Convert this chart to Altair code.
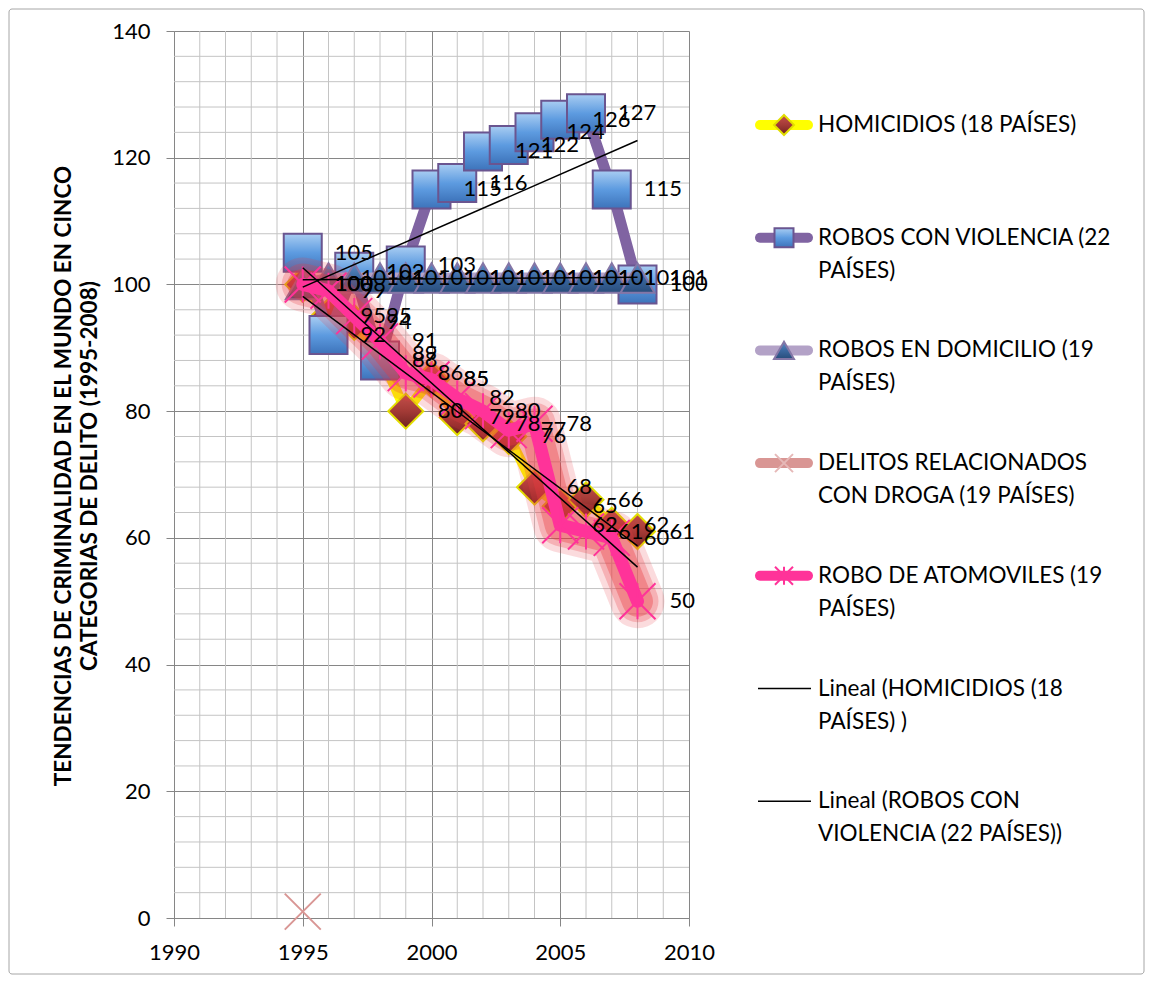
import altair as alt
import pandas as pd

# ---------------- data ----------------
years = [1995, 1996, 1997, 1998, 1999, 2000, 2001, 2002, 2003, 2004, 2005, 2006, 2007, 2008]
homicidios = [100, 95, 94, 89, 80, 85, 79, 78, 76, 68, 65, 66, 62, 61]
robos_violencia = [105, 92, 102, 88, 103, 115, 116, 121, 122, 124, 126, 127, 115, 100]
robos_domicilio = [100, 101, 101, 101, 101, 101, 101, 101, 101, 101, 101, 101, 101, 101]
delitos_years = [1995]
delitos_droga = [1]
robo_automoviles = [100, 99, 95, 91, 86, 85, 82, 80, 77, 78, 62, 61, 60, 50]

x_ticks = [1990, 1995, 2000, 2005, 2010]
y_ticks = [0, 20, 40, 60, 80, 100, 120, 140]
x_minor = [1991, 1992, 1993, 1994, 1996, 1997, 1998, 1999, 2001, 2002, 2003, 2004,
           2006, 2007, 2008, 2009]
y_minor = [4, 8, 12, 16, 24, 28, 32, 36, 44, 48, 52, 56, 64, 68, 72, 76, 84, 88, 92, 96,
           104, 108, 112, 116, 124, 128, 132, 136]

y_title = ["TENDENCIAS DE CRIMINALIDAD EN EL MUNDO EN CINCO",
           "CATEGORIAS DE DELITO (1995-2008)"]

legend_line1 = ["HOMICIDIOS (18 PAÍSES)", "ROBOS CON VIOLENCIA (22", "ROBOS EN DOMICILIO (19",
                "DELITOS RELACIONADOS", "ROBO DE ATOMOVILES (19", "Lineal (HOMICIDIOS (18",
                "Lineal (ROBOS CON"]
legend_line2 = ["", "PAÍSES)", "PAÍSES)", "CON DROGA (19 PAÍSES)", "PAÍSES)", "PAÍSES) )",
                "VIOLENCIA (22 PAÍSES))"]

# ---------------- style ----------------
FONT = "Lato"
W, H = 515, 887
GRID_MAJOR = "#868686"
GRID_MINOR = "#C4C4C4"

def grad(*cols):
    n = len(cols) - 1
    return alt.LinearGradient(
        gradient="linear",
        stops=[alt.GradientStop(color=c, offset=i / n) for i, c in enumerate(cols)],
        x1=0, x2=0, y1=0, y2=1)

HOM_FILL = grad("#C5504B", "#A33A36", "#6E2220")
VIO_FILL = grad("#A9CDF2", "#5D9BE0", "#3D73BA")
DOM_FILL = grad("#5A8BC6", "#3B68A0", "#284C7A")
STAR = "M-1,-1L1,1M-1,1L1,-1M0,-1L0,1"
XSHAPE = "M-1,-1L1,1M-1,1L1,-1"

xscale = alt.Scale(domain=[1990, 2010], nice=False, zero=False)
yscale = alt.Scale(domain=[0, 140], nice=False, zero=True)
xaxis = alt.Axis(values=x_ticks, format="d", title=None, grid=True, gridColor=GRID_MAJOR,
                 domainColor=GRID_MAJOR, tickColor=GRID_MAJOR, tickSize=8,
                 labelFont=FONT, labelFontSize=22, labelColor="black", labelPadding=16,
                 labelFlush=False, labelOverlap=False)
yaxis = alt.Axis(values=y_ticks, format="d", title=None, grid=True, gridColor=GRID_MAJOR,
                 domainColor=GRID_MAJOR, tickColor=GRID_MAJOR, tickSize=8,
                 labelFont=FONT, labelFontSize=22, labelColor="black", labelPadding=16,
                 labelFlush=False, labelOverlap=False)

def X(f):
    return alt.X(f, scale=xscale, axis=xaxis)

def Y(f):
    return alt.Y(f, scale=yscale, axis=yaxis)

def frame(xs, vs):
    return pd.DataFrame({"year": xs, "value": vs})

df_hom = frame(years, homicidios)
df_vio = frame(years, robos_violencia)
df_dom = frame(years, robos_domicilio)
df_del = frame(delitos_years, delitos_droga)
df_aut = frame(years, robo_automoviles)

layers = []

# minor grid
layers.append(alt.Chart(pd.DataFrame({"year": x_minor})).mark_rule(
    color=GRID_MINOR, strokeWidth=1).encode(x=X("year:Q")))
layers.append(alt.Chart(pd.DataFrame({"value": y_minor})).mark_rule(
    color=GRID_MINOR, strokeWidth=1).encode(y=Y("value:Q")))

def line(df, color, width, **kw):
    return alt.Chart(df).mark_line(color=color, strokeWidth=width, strokeCap="round",
                                   strokeJoin="round", **kw).encode(
        x=X("year:Q"), y=Y("value:Q"))

def points(df, **kw):
    return alt.Chart(df).mark_point(opacity=1, **kw).encode(x=X("year:Q"), y=Y("value:Q"))

# homicidios
layers.append(line(df_hom, "#FFFF00", 10))
layers.append(points(df_hom, shape="diamond", filled=True, fill=HOM_FILL, stroke="#E2DE00",
                     strokeWidth=2, size=1225))
# robos con violencia
layers.append(line(df_vio, "#8064A2", 11))
layers.append(points(df_vio, shape="square", filled=True, fill=VIO_FILL, stroke="#6A5590",
                     strokeWidth=2, size=1444))
# robos en domicilio
layers.append(line(df_dom, "#B3A2C7", 11))
layers.append(points(df_dom, shape="triangle-up", filled=True, fill=DOM_FILL, stroke="#8476A6",
                     strokeWidth=2, size=1156))
# delitos (single visible point)
layers.append(points(df_del, shape=XSHAPE, filled=False, stroke="#D99694", strokeWidth=2,
                     size=1296))
# robo automoviles with red glow
for w, o in [(54, 0.18), (42, 0.26), (31, 0.36)]:
    layers.append(line(df_aut, "#E83A40", w, opacity=o))
layers.append(line(df_aut, "#FF3399", 13))
layers.append(points(df_aut, shape=STAR, filled=False, stroke="#FF3399", strokeWidth=2,
                     size=1296))

# trendlines
for d in [df_hom, df_vio, df_dom, df_aut]:
    layers.append(alt.Chart(d).transform_regression("year", "value").mark_line(
        color="black", strokeWidth=1.5).encode(x=X("year:Q"), y=Y("value:Q")))

# data labels
for d in [df_hom, df_vio, df_dom, df_aut]:
    layers.append(alt.Chart(d).mark_text(align="left", baseline="middle", dx=32, font=FONT,
                                         fontSize=22, color="black").encode(
        x=X("year:Q"), y=Y("value:Q"), text=alt.Text("value:Q", format="d")))

one = pd.DataFrame({"k": [0]})

# y title
layers.append(alt.Chart(one).mark_text(angle=270, font=FONT, fontWeight="bold", fontSize=22.5,
                                       align="center", baseline="middle", lineHeight=26,
                                       color="black").encode(
    x=alt.value(-110), y=alt.value(445), text=alt.value(y_title)))

# legend
legend_styles = [
    dict(line="#FFFF00", lw=10, shape="diamond", filled=True, fill=HOM_FILL, stroke="#E2DE00", size=400),
    dict(line="#8064A2", lw=10, shape="square", filled=True, fill=VIO_FILL, stroke="#6A5590", size=361),
    dict(line="#B3A2C7", lw=10, shape="triangle-up", filled=True, fill=DOM_FILL, stroke="#8476A6", size=400),
    dict(line="#D99694", lw=10, shape=XSHAPE, filled=False, stroke="#E6B9B8", size=324),
    dict(line="#FF3399", lw=10, shape=STAR, filled=False, stroke="#FF3399", size=324),
    dict(line="black", lw=1.5),
    dict(line="black", lw=1.5),
]
for i, st in enumerate(legend_styles):
    yy = 94 + i * 112.7
    if st["lw"] > 2:
        layers.append(alt.Chart(one).mark_rule(color=st["line"], strokeWidth=st["lw"],
                                               strokeCap="round").encode(
            x=alt.value(586), x2=alt.value(634), y=alt.value(yy)))
        kw = dict(shape=st["shape"], filled=st["filled"], stroke=st["stroke"], strokeWidth=2,
                  size=st["size"], opacity=1)
        if st["filled"]:
            kw["fill"] = st["fill"]
        layers.append(alt.Chart(one).mark_point(**kw).encode(x=alt.value(610), y=alt.value(yy)))
    else:
        layers.append(alt.Chart(one).mark_rule(color=st["line"], strokeWidth=st["lw"]).encode(
            x=alt.value(584), x2=alt.value(637), y=alt.value(yy)))
    layers.append(alt.Chart(pd.DataFrame({"t": [legend_line1[i]]})).mark_text(
        align="left", baseline="middle", font=FONT, fontSize=22.5, color="black").encode(
        x=alt.value(644), y=alt.value(yy), text="t:N"))
    if legend_line2[i]:
        layers.append(alt.Chart(pd.DataFrame({"t": [legend_line2[i]]})).mark_text(
            align="left", baseline="middle", font=FONT, fontSize=22.5, color="black").encode(
            x=alt.value(644), y=alt.value(yy + 33), text="t:N"))

# outer frame
layers.append(alt.Chart(one).mark_rect(fillOpacity=0, stroke="#A6A6A6", strokeWidth=1,
                                       cornerRadius=3).encode(
    x=alt.value(-165), x2=alt.value(970), y=alt.value(-22), y2=alt.value(943)))

chart = alt.layer(*layers).properties(width=W, height=H, padding=0).configure_view(
    strokeWidth=0)

chart.save("out.html", embed_options={"renderer": "svg", "actions": False})
